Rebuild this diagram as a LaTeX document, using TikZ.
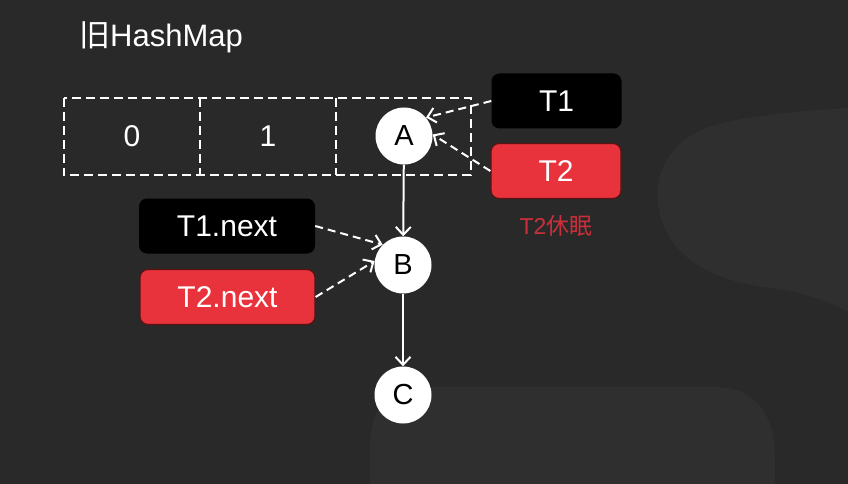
\documentclass[tikz,border=0pt]{standalone}
\usepackage{fontspec}
\setmainfont{Liberation Sans}
\newfontfamily\cjk{Noto Sans CJK SC}
\usetikzlibrary{arrows.meta}
\definecolor{bg}{HTML}{292929}
\definecolor{bgl}{HTML}{2F2F2F}
\definecolor{tred}{HTML}{E8323C}
\definecolor{tredb}{HTML}{5A1212}
\definecolor{lred}{HTML}{C9303B}
\begin{document}
\begin{tikzpicture}[x=1pt,y=-1pt,
  cell/.style={minimum width=136pt,minimum height=77pt,inner sep=0pt,
    font=\fontsize{30}{32}\selectfont,text=white},
  dashline/.style={draw=white,dash pattern=on 9pt off 5pt,line width=2.2pt},
  tbox/.style={rounded corners=8pt,minimum width=130pt,minimum height=55pt,
    inner sep=0pt,font=\fontsize{30}{32}\selectfont,text=white},
  blackbox/.style={tbox,fill=black},
  redbox/.style={tbox,fill=tred,draw=tredb,line width=1.2pt},
  ball/.style={circle,fill=white,minimum size=57pt,inner sep=0pt,
    font=\fontsize{29}{30}\selectfont,text=black},
  ptr/.style={draw=white,line width=2pt,dash pattern=on 8pt off 5pt,
    -{Straight Barb[length=8pt,width=15pt,line width=2pt]}},
  link/.style={draw=white,line width=2pt,
    -{Straight Barb[length=8pt,width=15pt,line width=2pt]}}
]
% background
\fill[bg] (0,0) rectangle (848,484);
\useasboundingbox (0,0) rectangle (848,484);
\fill[bgl] (848,108) .. controls (780,112) and (740,118) .. (715,125)
  .. controls (670,138) and (650,175) .. (660,215)
  .. controls (672,262) and (720,282) .. (770,288)
  .. controls (805,292) and (830,302) .. (848,312) -- cycle;
\fill[bgl] (370,484) -- (370,447) .. controls (370,410) and (385,387) .. (430,387)
  -- (715,387) .. controls (760,387) and (775,420) .. (775,460) -- (775,484) -- cycle;

% title
\node[anchor=west,text=white,font=\fontsize{31}{34}\selectfont,inner sep=0pt] (title) at (79,37) {{\cjk 旧}HashMap};

% array cells
\node[cell] (c0) at (132,136.5) {0};
\node[cell] (c1) at (268,136.5) {1};
\node[cell] (c2) at (403,136.5) {};
\draw[dashline] (c0.north west) rectangle (c2.south east);
\draw[dashline] (c0.north east) -- (c0.south east);
\draw[dashline] (c1.north east) -- (c1.south east);

% list nodes
\node[ball] (A) at (404,136) {A};
\node[ball] (B) at (403,265) {B};
\node[ball] (C) at (403,395) {C};

% thread boxes
\node[blackbox] (T1) at (556.5,101) {T1};
\node[redbox] (T2) at (556,171) {T2};
\node[text=lred,font=\fontsize{23}{25}\selectfont,inner sep=0pt] (sleep) at (556,226) {T2{\cjk 休眠}};
\node[blackbox,minimum width=176pt] (T1n) at (227,226) {T1.next};
\node[redbox,minimum width=175pt] (T2n) at (227.5,297) {T2.next};

% connectors
\draw[link] (A) -- (B);
\draw[link] (B) -- (C);
\draw[ptr] (T1.west) -- (A.40);
\draw[ptr] (T2.west) -- (A.3);
\draw[ptr] (T1n.east) -- (B.135);
\draw[ptr] (T2n.east) -- (B.172);
\end{tikzpicture}
\end{document}
